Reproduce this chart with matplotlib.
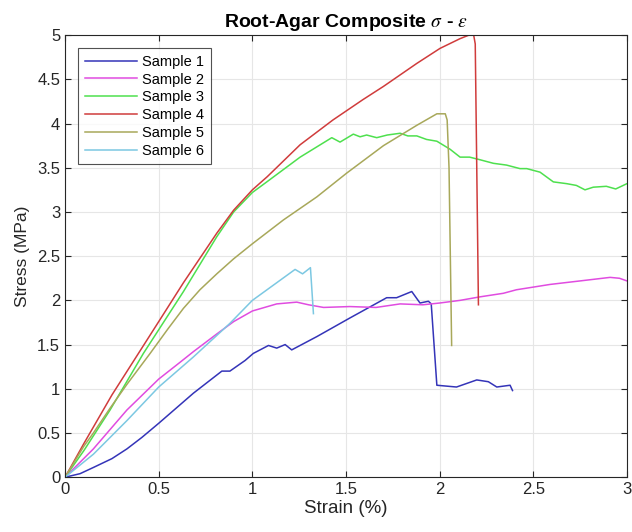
import matplotlib
matplotlib.use("Agg")
import matplotlib.pyplot as plt
from matplotlib.ticker import FuncFormatter

plt.rcParams['font.family'] = ['Liberation Sans', 'DejaVu Sans']
plt.rcParams['mathtext.fontset'] = 'stix'

# Sample 1 (blue)
s1_x = [0, 0.08, 0.151, 0.25, 0.33, 0.41, 0.5, 0.685, 0.837, 0.88, 0.961, 1.005,
        1.086, 1.13, 1.175, 1.21, 1.344, 1.52, 1.717, 1.77, 1.851, 1.895, 1.94,
        1.955, 1.985, 2.09, 2.198, 2.26, 2.305, 2.376, 2.389]
s1_y = [0, 0.04, 0.11, 0.21, 0.32, 0.45, 0.61, 0.95, 1.20, 1.20, 1.32, 1.40,
        1.49, 1.46, 1.50, 1.44, 1.59, 1.80, 2.03, 2.03, 2.10, 1.97, 1.99,
        1.96, 1.04, 1.02, 1.10, 1.08, 1.02, 1.04, 0.98]

# Sample 2 (magenta)
s2_x = [0, 0.151, 0.33, 0.5, 0.614, 0.685, 0.81, 0.9, 1.0, 1.13, 1.237, 1.30, 1.38,
        1.52, 1.66, 1.789, 1.91, 2.0, 2.109, 2.216, 2.34, 2.41, 2.5, 2.589, 2.75,
        2.91, 2.96, 3.0]
s2_y = [0, 0.32, 0.76, 1.11, 1.30, 1.42, 1.62, 1.76, 1.88, 1.96, 1.98, 1.95, 1.92,
        1.93, 1.92, 1.96, 1.95, 1.97, 2.0, 2.04, 2.08, 2.12, 2.15, 2.18, 2.22,
        2.26, 2.25, 2.22]

# Sample 3 (green)
s3_x = [0, 0.1, 0.24, 0.418, 0.525, 0.632, 0.81, 0.9, 1.0, 1.077, 1.255, 1.424,
        1.468, 1.539, 1.575, 1.61, 1.664, 1.72, 1.789, 1.83, 1.878, 1.93, 1.985,
        2.055, 2.109, 2.16, 2.216, 2.287, 2.357, 2.429, 2.465, 2.536, 2.607, 2.678,
        2.73, 2.776, 2.82, 2.89, 2.94, 3.0]
s3_y = [0, 0.30, 0.76, 1.40, 1.75, 2.10, 2.72, 3.0, 3.22, 3.34, 3.62, 3.84,
        3.79, 3.88, 3.85, 3.87, 3.84, 3.87, 3.89, 3.86, 3.86, 3.82, 3.80,
        3.71, 3.62, 3.62, 3.59, 3.55, 3.53, 3.49, 3.49, 3.45, 3.34, 3.32,
        3.30, 3.25, 3.28, 3.29, 3.26, 3.32]

# Sample 4 (red)
s4_x = [0, 0.1, 0.25, 0.5, 0.632, 0.81, 0.9, 1.0, 1.08, 1.255, 1.43, 1.59, 1.70,
        1.878, 2.002, 2.109, 2.18, 2.19, 2.207]
s4_y = [0, 0.38, 0.93, 1.76, 2.20, 2.76, 3.02, 3.25, 3.40, 3.76, 4.04, 4.27, 4.42,
        4.68, 4.85, 4.96, 5.02, 4.90, 1.95]

# Sample 5 (olive)
s5_x = [0, 0.1, 0.151, 0.24, 0.33, 0.454, 0.55, 0.632, 0.72, 0.81, 0.9, 1.0, 1.166,
        1.344, 1.504, 1.70, 1.878, 1.985, 2.03, 2.04, 2.05, 2.064]
s5_y = [0, 0.35, 0.50, 0.78, 1.05, 1.40, 1.68, 1.91, 2.12, 2.30, 2.47, 2.64, 2.91,
        3.17, 3.44, 3.75, 3.98, 4.11, 4.11, 4.04, 3.50, 1.49]

# Sample 6 (light blue)
s6_x = [0, 0.151, 0.33, 0.5, 0.685, 0.88, 1.0, 1.228, 1.268, 1.31, 1.326]
s6_y = [0, 0.26, 0.64, 1.02, 1.36, 1.74, 2.00, 2.35, 2.30, 2.37, 1.85]

series = [
    (s1_x, s1_y, 'Sample 1', '#3434b8'),
    (s2_x, s2_y, 'Sample 2', '#e04ce0'),
    (s3_x, s3_y, 'Sample 3', '#4ee04e'),
    (s4_x, s4_y, 'Sample 4', '#d03c3c'),
    (s5_x, s5_y, 'Sample 5', '#a8a85a'),
    (s6_x, s6_y, 'Sample 6', '#7cc8e2'),
]

fig = plt.figure(figsize=(6.32, 5.32), dpi=100)
ax = fig.add_axes([0.103, 0.103, 0.889, 0.831])

for x, y, name, c in series:
    ax.plot(x, y, color=c, lw=1.1, label=name)

ax.set_xlim(0, 3)
ax.set_ylim(0, 5)
ax.set_xticks([0, 0.5, 1, 1.5, 2, 2.5, 3])
ax.set_yticks([0, 0.5, 1, 1.5, 2, 2.5, 3, 3.5, 4, 4.5, 5])
fmt = FuncFormatter(lambda v, p: '%g' % v)
ax.xaxis.set_major_formatter(fmt)
ax.yaxis.set_major_formatter(fmt)
ax.tick_params(direction='in', top=True, right=True, labelsize=12,
               colors='#262626', length=4, width=0.8)
ax.grid(True, color='#e6e6e6', lw=0.8)
ax.set_axisbelow(True)
for sp in ax.spines.values():
    sp.set_color('#262626')
    sp.set_linewidth(0.8)

ax.set_xlabel('Strain (%)', fontsize=13.5, color='#262626', labelpad=2)
ax.set_ylabel('Stress (MPa)', fontsize=12.5, color='#262626', labelpad=5)
ax.set_title(r'Root-Agar Composite $\sigma$ - $\epsilon$', fontsize=14,
             fontweight='bold', color='#000000', pad=6)

leg = ax.legend(loc='upper left', fontsize=10.5, handlelength=3.6,
                fancybox=False, borderaxespad=0.9, labelspacing=0.26,
                handletextpad=0.35, borderpad=0.45)
leg.get_frame().set_edgecolor('#262626')
leg.get_frame().set_linewidth(0.8)

fig.savefig('out.png', dpi=100)
